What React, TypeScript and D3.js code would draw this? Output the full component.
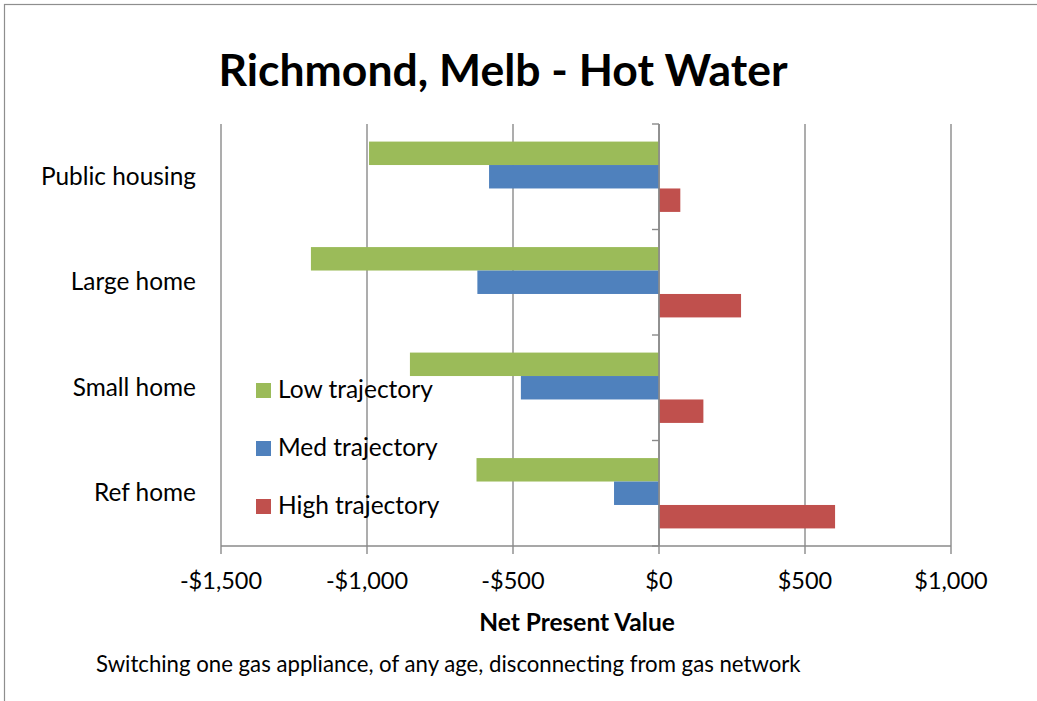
import React from 'react';
import * as d3 from 'd3';

const categories = ['Public housing', 'Large home', 'Small home', 'Ref home'];
const seriesNames = ['Low trajectory', 'Med trajectory', 'High trajectory'];
const lowValues = [-993, -1192, -853, -625];
const medValues = [-582, -622, -473, -154];
const highValues = [73, 281, 152, 603];
const xTickValues = [-1500, -1000, -500, 0, 500, 1000];
const seriesColors = ['#9BBB59', '#4F81BD', '#C0504D'];

const W = 1037;
const H = 701;
const FONT = 'Lato, "Open Sans", sans-serif';

export default function App() {
  const series = [lowValues, medValues, highValues];
  const x = d3.scaleLinear().domain([-1500, 1000]).range([221, 951]);
  const y = d3.scaleBand<string>().domain(categories).range([124, 546]).paddingInner(0).paddingOuter(0);
  const inner = d3
    .scaleBand<string>()
    .domain(seriesNames)
    .range([0, y.bandwidth()])
    .paddingInner(0)
    .paddingOuter(0.75);
  const fmt = (v: number) => (v < 0 ? '-' : '') + '$' + d3.format(',')(Math.abs(v));
  const plotTop = y.range()[0];
  const plotBottom = y.range()[1];
  const bandEdges = categories.map((c) => y(c) as number).concat([plotBottom]);
  const gridColor = '#8a8a8a';

  return (
    <svg
      width={W}
      height={H}
      style={{ position: 'absolute', left: 0, top: 0, background: '#fff' }}
      xmlns="http://www.w3.org/2000/svg"
    >
      <rect x={0} y={0} width={W} height={H} fill="#fff" />
      <rect x={4.5} y={4.5} width={W + 20} height={H + 20} fill="none" stroke="#8e8e8e" strokeWidth={1.2} />

      <text x={503} y={86} textAnchor="middle" fontFamily={FONT} fontWeight={700} fontSize={44.5} fill="#000">
        Richmond, Melb - Hot Water
      </text>

      {/* vertical gridlines */}
      {xTickValues.map((t) => (
        <line key={'g' + t} x1={x(t)} x2={x(t)} y1={plotTop} y2={plotBottom + 8} stroke={gridColor} strokeWidth={1.4} />
      ))}

      {/* bars */}
      {categories.map((c, ci) =>
        series.map((vals, si) => {
          const v = vals[ci];
          const x0 = x(Math.min(0, v));
          const x1 = x(Math.max(0, v));
          return (
            <rect
              key={c + si}
              x={x0}
              y={(y(c) as number) + (inner(seriesNames[si]) as number)}
              width={x1 - x0}
              height={inner.bandwidth()}
              fill={seriesColors[si]}
            />
          );
        })
      )}

      {/* x axis */}
      <line x1={x(-1500)} x2={x(1000)} y1={plotBottom} y2={plotBottom} stroke={gridColor} strokeWidth={1.4} />
      {/* category axis at zero */}
      <line x1={x(0)} x2={x(0)} y1={plotTop} y2={plotBottom} stroke={gridColor} strokeWidth={1.6} />
      {bandEdges.map((e, i) => (
        <line key={'ct' + i} x1={x(0) - 7} x2={x(0)} y1={e} y2={e} stroke={gridColor} strokeWidth={1.4} />
      ))}

      {/* x tick labels */}
      {xTickValues.map((t) => (
        <text key={'xl' + t} x={x(t)} y={589} textAnchor="middle" fontFamily={FONT} fontSize={23.5} fill="#000">
          {fmt(t)}
        </text>
      ))}
      <text x={577} y={631} textAnchor="middle" fontFamily={FONT} fontWeight={700} fontSize={24.5} fill="#000">
        Net Present Value
      </text>

      {/* category labels */}
      {categories.map((c) => (
        <text
          key={'cl' + c}
          x={196}
          y={(y(c) as number) + y.bandwidth() / 2 + 8}
          textAnchor="end"
          fontFamily={FONT}
          fontSize={24.4}
          fill="#000"
        >
          {c}
        </text>
      ))}

      {/* legend */}
      {seriesNames.map((s, i) => (
        <g key={'lg' + s} transform={`translate(256, ${383 + i * 58})`}>
          <rect x={0} y={0} width={15} height={15} fill={seriesColors[i]} />
          <text x={22} y={15} fontFamily={FONT} fontSize={24.5} fill="#000">
            {s}
          </text>
        </g>
      ))}

      <text x={96} y={672} fontFamily={FONT} fontSize={22.2} fill="#000">
        Switching one gas appliance, of any age, disconnecting from gas network
      </text>
    </svg>
  );
}
